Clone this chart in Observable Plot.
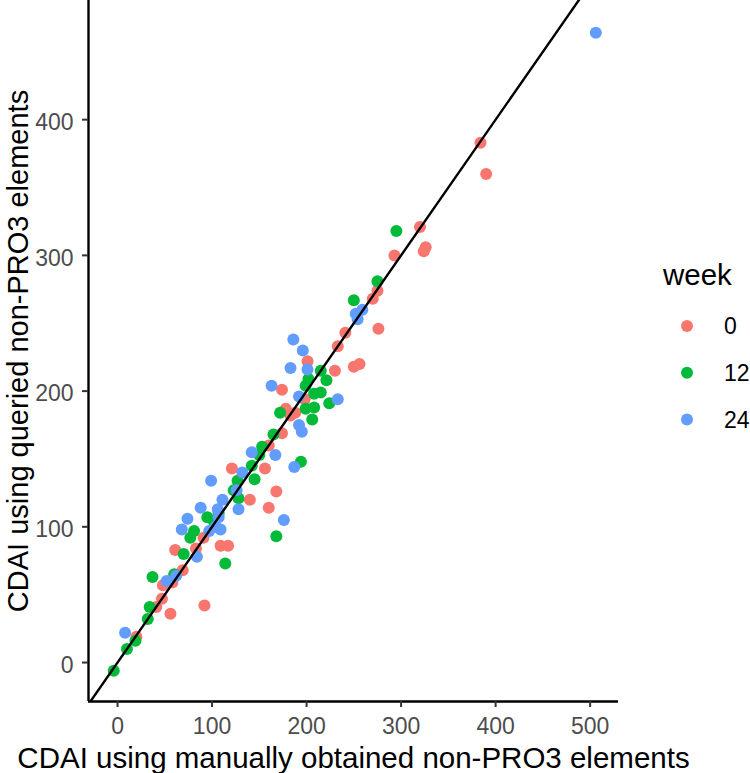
<!DOCTYPE html>
<html>
<head>
<meta charset="utf-8">
<script src="https://cdn.jsdelivr.net/npm/d3@7"></script>
<script src="https://cdn.jsdelivr.net/npm/@observablehq/plot@0.6"></script>
<style>
  html, body { margin: 0; padding: 0; background: #fff; }
  #chart { width: 750px; height: 773px; }
</style>
</head>
<body>
<div id="chart"></div>
<script>
// ---- data ----
const weekLevels = ["0", "12", "24"];
const weekColors = ["#F8766D", "#00BA38", "#619CFF"];

const week0 = [
  [20,19],[41,41],[47,47],[48,57],[56,36],[58,59],[69,68],[92,42],[61,83],[83,84],
  [91,92],[109,86],[117,86],[121,143],[140,120],[156,143],[160,160],[168,126],[160,114],[174,169],
  [178,187],[183,182],[188,184],[174,201],[198,194],[201,222],[230,215],[233,233],[241,243],[250,218],
  [256,220],[276,246],[270,268],[275,274],[293,300],[320,321],[326,306],[324,303],[384,383],[390,360]
];
const week12 = [
  [-4,-6],[10,10],[19,16],[32,32],[34,41],[37,63],[60,65],[70,80],[77,92],[81,97],
  [95,107],[102,104],[107,110],[114,73],[123,127],[128,121],[127,134],[142,145],[145,135],[150,153],
  [153,159],[165,168],[168,93],[172,184],[194,148],[199,187],[208,188],[206,179],[224,191],[208,198],
  [215,199],[199,204],[202,209],[221,208],[215,215],[250,267],[275,281],[295,318]
];
const week24 = [
  [8,22],[52,60],[62,64],[84,78],[68,98],[74,106],[88,114],[97,97],[104,100],[109,98],
  [106,113],[107,107],[111,120],[99,134],[128,113],[126,127],[132,140],[142,155],[167,153],[176,105],
  [187,144],[192,175],[195,170],[163,204],[183,217],[201,216],[196,230],[186,238],[192,196],[233,194],
  [252,257],[254,253],[259,260],[506,464]
];

const xTicks = [0, 100, 200, 300, 400, 500];
const yTicks = [0, 100, 200, 300, 400];
const xDomain = [-30.7, 530];
const yDomain = [-28.7, 487.8];
const ablineIntercept = 0;
const ablineSlope = 1;

const xTitle = "CDAI using manually obtained non-PRO3 elements";
const yTitle = "CDAI using queried non-PRO3 elements";
const legendTitle = "week";

// ---- build tables ----
const series = [week0, week12, week24];
const points = series.flatMap((arr, i) => arr.map(([x, y]) => ({x, y, week: weekLevels[i]})));
const ablineX = [xDomain[0] - 50, xDomain[1] + 50];
const abline = ablineX.map(x => ({x, y: ablineIntercept + ablineSlope * x}));

const FONT = "'Liberation Sans', Arial, Helvetica, sans-serif";
const TICK_FONT = 23;
const TITLE_FONT = 29.5;

const plot = Plot.plot({
  width: 750,
  height: 773,
  marginLeft: 88,
  marginRight: 132,
  marginTop: 0,
  marginBottom: 72,
  style: {fontFamily: FONT, background: "#fff", overflow: "visible"},
  x: {domain: xDomain},
  y: {domain: yDomain},
  color: {domain: weekLevels, range: weekColors},
  marks: [
    Plot.dot(points, {x: "x", y: "y", fill: "week", r: 6, stroke: null}),
    Plot.line(abline, {x: "x", y: "y", stroke: "#000", strokeWidth: 2.4, clip: true}),
    Plot.ruleX([xDomain[0]], {stroke: "#000", strokeWidth: 2.4}),
    Plot.ruleY([yDomain[0]], {stroke: "#000", strokeWidth: 2.4}),
    // tick marks (labels drawn separately)
    Plot.axisX({ticks: xTicks, tickSize: 6, stroke: "#333", strokeWidth: 2, tickFormat: () => "", label: null}),
    Plot.axisY({ticks: yTicks, tickSize: 6, stroke: "#333", strokeWidth: 2, tickFormat: () => "", label: null}),
    // tick labels
    Plot.text(xTicks, {x: d => d, text: d => String(d), frameAnchor: "bottom", textAnchor: "middle", lineAnchor: "bottom", dy: 32, fontSize: TICK_FONT, fill: "#4D4D4D"}),
    Plot.text(yTicks, {y: d => d, text: d => String(d), frameAnchor: "left", textAnchor: "end", lineAnchor: "middle", dx: -15, dy: 3, fontSize: TICK_FONT, fill: "#4D4D4D"}),
    // axis titles
    Plot.text([xTitle], {frameAnchor: "bottom", textAnchor: "middle", dy: 66, fontSize: TITLE_FONT, lineAnchor: "bottom", fill: "#000"}),
    Plot.text([yTitle], {frameAnchor: "left", textAnchor: "middle", rotate: -90, dx: -61, fontSize: 29, lineAnchor: "bottom", fill: "#000"})
  ]
});

// ---- legend (right side, ggplot style) ----
const color = plot.scale("color");
const svg = d3.select(plot);
const lg = svg.append("g").attr("font-family", FONT).attr("text-anchor", "start");
lg.append("text")
  .attr("x", 663).attr("y", 285)
  .attr("font-size", TITLE_FONT).attr("fill", "#000")
  .text(legendTitle);
weekLevels.forEach((w, i) => {
  const cy = 326 + i * 46.7;
  lg.append("circle").attr("cx", 687).attr("cy", cy).attr("r", 6).attr("fill", color.apply(w));
  lg.append("text")
    .attr("x", 724).attr("y", cy).attr("dy", "0.36em")
    .attr("font-size", TICK_FONT).attr("fill", "#000")
    .text(w);
});

document.getElementById("chart").appendChild(plot);
</script>
</body>
</html>
